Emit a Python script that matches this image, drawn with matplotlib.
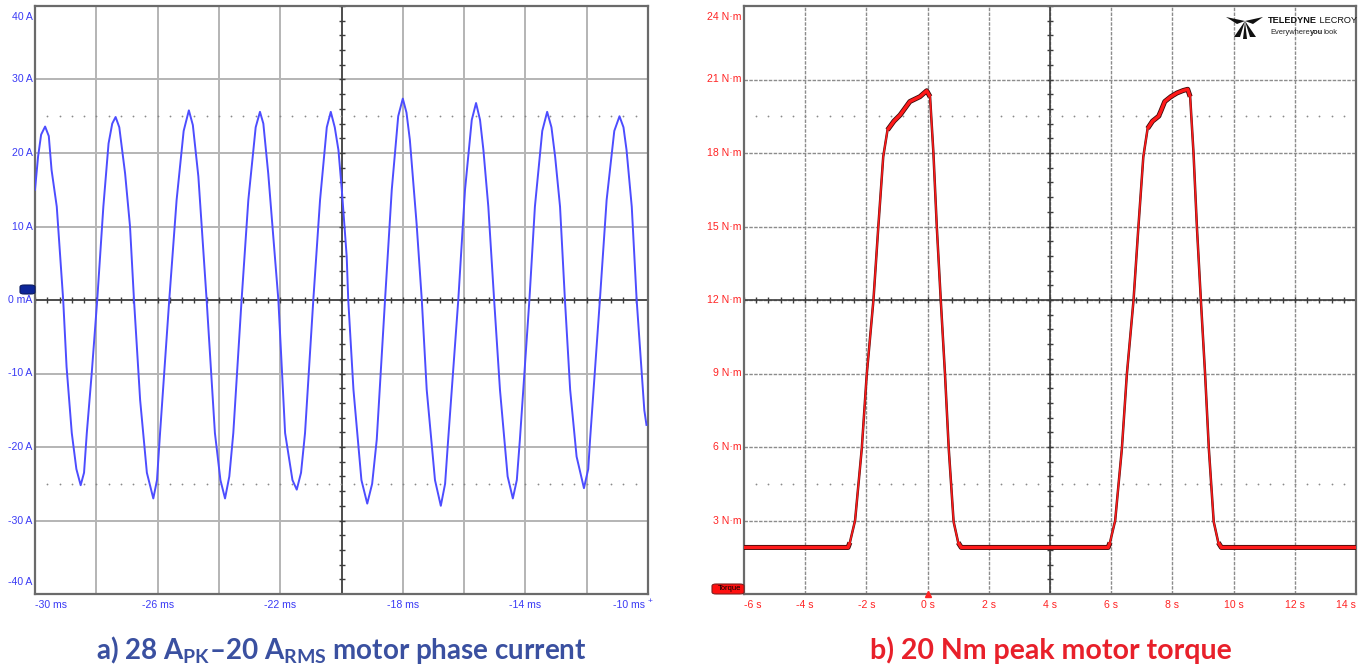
import numpy as np
import matplotlib.pyplot as plt
from matplotlib.patches import FancyBboxPatch, Polygon

plt.rcParams['font.family'] = ['Liberation Sans', 'DejaVu Sans']
plt.rcParams['mathtext.fontset'] = 'custom'
plt.rcParams['mathtext.rm'] = 'Lato:bold'
plt.rcParams['mathtext.bf'] = 'Lato:bold'
plt.rcParams['mathtext.it'] = 'Lato:bold:italic'

# --- data: phase current (ms, A)
t_cur = [-30.00, -29.90, -29.80, -29.67, -29.55, -29.46, -29.29, -29.08, -28.97, -28.80,
         -28.65, -28.51, -28.40, -28.31, -28.15, -27.97, -27.77, -27.60, -27.48, -27.37,
         -27.25, -27.06, -26.90, -26.77, -26.57, -26.35, -26.14, -26.02, -25.92, -25.62,
         -25.38, -25.15, -24.98, -24.85, -24.67, -24.40, -24.13, -23.95, -23.80, -23.66,
         -23.53, -23.26, -23.04, -22.80, -22.66, -22.55, -22.39, -22.06, -21.84, -21.60,
         -21.46, -21.32, -21.19, -20.92, -20.70, -20.48, -20.35, -20.22, -20.10, -19.99,
         -19.83, -19.78, -19.61, -19.35, -19.16, -19.00, -18.85, -18.58, -18.36, -18.15,
         -18.00, -17.88, -17.77, -17.55, -17.38, -17.22, -16.95, -16.76, -16.62, -16.52,
         -16.19, -15.97, -15.75, -15.61, -15.48, -15.37, -15.21, -15.02, -14.83, -14.58,
         -14.41, -14.28, -14.18, -13.87, -13.69, -13.45, -13.29, -13.15, -13.03, -12.87,
         -12.71, -12.54, -12.33, -12.09, -11.95, -11.89, -11.57, -11.35, -11.10, -10.93,
         -10.80, -10.70, -10.53, -10.37, -10.12, -10.05]
i_cur = [15.0, 19.5, 22.5, 23.6, 22.3, 17.7, 12.7, 0.0, -9.1, -18.1,
         -23.0, -25.2, -23.5, -18.1, -10.0, 0.0, 12.7, 21.3, 24.0, 24.9,
         23.5, 17.2, 10.0, 0.0, -13.6, -23.5, -27.0, -24.5, -18.1, 0.0,
         13.6, 23.0, 25.8, 23.8, 16.8, 0.0, -18.1, -24.5, -27.0, -24.0,
         -18.1, 0.0, 13.6, 23.5, 25.6, 24.0, 17.2, 0.0, -18.1, -24.5,
         -25.8, -23.5, -18.1, 0.0, 13.6, 23.5, 25.6, 23.5, 20.4, 15.0,
         5.9, 0.0, -12.2, -24.5, -27.7, -25.0, -19.0, 0.0, 15.0, 25.0,
         27.4, 25.5, 21.8, 10.4, 0.0, -12.2, -24.5, -28.0, -25.0, -19.0,
         0.0, 15.0, 24.5, 26.8, 24.5, 20.4, 12.7, 0.0, -12.2, -24.0,
         -27.0, -24.5, -19.0, 0.0, 12.7, 23.0, 25.6, 23.5, 19.5, 12.7,
         0.0, -12.2, -21.3, -25.6, -23.0, -19.0, 0.0, 13.6, 23.0, 25.0,
         23.5, 20.4, 12.7, 0.0, -15.0, -17.0]

# --- data: motor torque (s, N·m)
t_trq = [-6.0, -2.6, -2.54, -2.37, -2.15, -1.99, -1.77, -1.61, -1.45, -1.31,
         -1.1, -0.9, -0.58, -0.25, -0.03, 0.08, 0.19, 0.30, 0.43, 0.57,
         0.69, 0.85, 1.0, 1.1, 5.9, 5.96, 6.13, 6.35, 6.51, 6.73,
         6.89, 7.05, 7.19, 7.35, 7.55, 7.62, 7.75, 7.95, 8.15, 8.35,
         8.50, 8.58, 8.69, 8.80, 8.93, 9.07, 9.19, 9.35, 9.50, 9.60, 14.0]
v_trq = [1.9, 1.9, 2.1, 3.0, 5.95, 8.94, 12.0, 15.0, 17.85, 18.94,
         19.3, 19.55, 20.1, 20.3, 20.54, 20.3, 18.0, 15.0, 12.0, 8.94,
         5.95, 2.95, 2.1, 1.9, 1.9, 2.1, 3.0, 5.95, 8.94, 12.0,
         15.0, 17.85, 19.0, 19.3, 19.5, 19.7, 20.1, 20.3, 20.45, 20.55,
         20.6, 20.3, 18.0, 15.0, 12.0, 8.94, 5.95, 2.95, 2.1, 1.9, 1.9]

cur_yticks = [40, 30, 20, 10, 0, -10, -20, -30, -40]
cur_ylabels = ['40 A', '30 A', '20 A', '10 A', '0 mA', '-10 A', '-20 A', '-30 A', '-40 A']
cur_xticks = [-30, -26, -22, -18, -14, -10]
cur_xlabels = ['-30 ms', '-26 ms', '-22 ms', '-18 ms', '-14 ms', '-10 ms']
trq_yticks = [24, 21, 18, 15, 12, 9, 6, 3]
trq_ylabels = ['24 N·m', '21 N·m', '18 N·m', '15 N·m', '12 N·m', '9 N·m', '6 N·m', '3 N·m']
trq_xticks = [-6, -4, -2, 0, 2, 4, 6, 8, 10, 12, 14]
trq_xlabels = ['-6 s', '-4 s', '-2 s', '0 s', '2 s', '4 s', '6 s', '8 s', '10 s', '12 s', '14 s']

BLUE = '#3a3af5'
RED = '#ff2424'

W, H = 1361, 669
fig = plt.figure(figsize=(W / 100, H / 100), dpi=100)


def px(x, y):
    return x / W, 1 - y / H


ax1 = fig.add_axes([35 / W, 1 - 594 / H, 613 / W, 588 / H])
ax2 = fig.add_axes([744 / W, 1 - 594 / H, 612 / W, 588 / H])


def scope_frame(ax, xlim, ylim, xc, yc, grid_kw, dots_y, dot_x0):
    ax.set_xlim(*xlim)
    ax.set_ylim(*ylim)
    ax.set_xticks([])
    ax.set_yticks([])
    dx = (xlim[1] - xlim[0]) / 10
    dy = (ylim[1] - ylim[0]) / 8
    for k in range(1, 10):
        ax.axvline(xlim[0] + k * dx, zorder=1, **grid_kw)
    for k in range(1, 8):
        ax.axhline(ylim[0] + k * dy, zorder=1, **grid_kw)
    ax.axvline(xc, color='#3c3c3c', lw=1.2, zorder=2)
    ax.axhline(yc, color='#3c3c3c', lw=1.2, zorder=2)
    # minor ticks on the centre cross
    mx = np.arange(xlim[0], xlim[1] + 1e-9, dx / 5)
    my = np.arange(ylim[0], ylim[1] + 1e-9, dy / 5)
    ax.plot(mx, np.full_like(mx, yc), ls='none', marker='|', ms=5, mew=1.0,
            color='#3c3c3c', zorder=2)
    ax.plot(np.full_like(my, xc), my, ls='none', marker='_', ms=5, mew=1.0,
            color='#3c3c3c', zorder=2)
    # dotted reference levels
    dxs = np.arange(dot_x0, xlim[1] - dx / 5 + 1e-9, dx / 5)
    for yy in dots_y:
        ax.plot(dxs, np.full_like(dxs, yy), ls='none', marker='o', ms=1.3,
                color='#8a8a8a', mew=0, zorder=2)
    for s in ax.spines.values():
        s.set_color('#6a6a6a')
        s.set_linewidth(1.6)


scope_frame(ax1, (-30, -10), (-40, 40), -20, 0,
            dict(color='#b4b4b4', lw=1.4), [25, -25], -29.6)
scope_frame(ax2, (-6, 14), (0, 24), 4, 12,
            dict(color='#8c8c8c', lw=1.0, ls=(0, (2.5, 1))), [19.5, 4.5], -5.6)

# traces
ax1.plot(t_cur, i_cur, color='#4d4dff', lw=1.4, zorder=3, solid_joinstyle='round')

t_arr = np.array(t_trq)
v_arr = np.array(v_trq)
# the flat stretches are noisy on the scope -> drawn thicker
flat = np.where((v_arr < 2.2) | (v_arr > 18.9), v_arr, np.nan)
ax2.plot(t_arr, flat, color='#3a0a0a', lw=3.6, zorder=3, solid_capstyle='butt')
ax2.plot(t_arr, v_arr, color='#5a1010', lw=1.8, zorder=3)
ax2.plot(t_arr, v_arr, color='#ff1a1a', lw=1.1, zorder=4)
ax2.plot(t_arr, flat, color='#ff1a1a', lw=2.4, zorder=4, solid_capstyle='butt')

# tick labels
fs = 7.6
for y, lab in zip(cur_yticks, cur_ylabels):
    va = 'top' if y == 40 else ('bottom' if y == -40 else 'center')
    yy = y - 0.8 if y == 40 else (y + 1.0 if y == -40 else y)
    ax1.text(-0.004, yy, lab, transform=ax1.get_yaxis_transform(), ha='right',
             va=va, fontsize=fs, color=BLUE, clip_on=False)
for x, lab in zip(cur_xticks, cur_xlabels):
    ha = 'left' if x == -30 else ('right' if x == -10 else 'center')
    xx = x - 0.1 if x == -10 else x
    ax1.text(xx, -0.01, lab, transform=ax1.get_xaxis_transform(), ha=ha, va='top',
             fontsize=fs, color=BLUE, clip_on=False)
ax1.text(-10.0, -0.006, '+', transform=ax1.get_xaxis_transform(), ha='left',
         va='top', fontsize=6, color=BLUE, clip_on=False)

for y, lab in zip(trq_yticks, trq_ylabels):
    va = 'top' if y == 24 else 'center'
    yy = y - 0.24 if y == 24 else y
    ax2.text(-0.004, yy, lab, transform=ax2.get_yaxis_transform(), ha='right',
             va=va, fontsize=fs, color=RED, clip_on=False)
for x, lab in zip(trq_xticks, trq_xlabels):
    ha = 'left' if x == -6 else ('right' if x == 14 else 'center')
    ax2.text(x, -0.01, lab, transform=ax2.get_xaxis_transform(), ha=ha, va='top',
             fontsize=fs, color=RED, clip_on=False)
ax2.plot([0], [0], marker='^', ms=5, color=RED, clip_on=False, zorder=6)

# channel markers
x0, y0 = px(20, 294)
fig.patches.append(FancyBboxPatch((x0, y0), 15 / W, 9 / H,
                                  boxstyle='round,pad=0,rounding_size=0.003',
                                  transform=fig.transFigure, fc='#0d2699',
                                  ec='#0a1a60', lw=0.8, zorder=10))
x0, y0 = px(712, 594)
fig.patches.append(FancyBboxPatch((x0, y0), 32 / W, 10 / H,
                                  boxstyle='round,pad=0,rounding_size=0.003',
                                  transform=fig.transFigure, fc='#ff1010',
                                  ec='#802020', lw=0.8, zorder=10))
fig.text(*px(729, 589), 'Torque', fontsize=5.5, color='black', ha='center',
         va='center', zorder=11)

# logo
for poly in [[(1226, 17), (1245, 21), (1237, 24)],
             [(1263, 17), (1245, 21), (1253, 24)],
             [(1245, 21), (1234, 37), (1240, 37)],
             [(1245, 21), (1256, 37), (1250, 37)],
             [(1245, 21), (1243, 39), (1247, 39)]]:
    fig.patches.append(Polygon([px(a, b) for a, b in poly], closed=True,
                               transform=fig.transFigure, fc='#111111', ec='none',
                               zorder=10))
t1 = fig.text(*px(1268, 23), 'TELEDYNE', fontsize=6.6, fontweight='bold',
              color='#111111', va='baseline', ha='left')
ax2.annotate(' LECROY', xy=(1, 0), xycoords=t1, va='bottom', ha='left',
             fontsize=6.6, color='#111111', annotation_clip=False)
t2 = fig.text(*px(1270, 34), 'Everywhere', fontsize=5.4, color='#222222',
              va='baseline', ha='left')
t3 = ax2.annotate('you', xy=(1, 0), xycoords=t2, va='bottom', ha='left',
                  fontsize=5.4, fontweight='bold', color='#222222',
                  annotation_clip=False)
ax2.annotate('look', xy=(1, 0), xycoords=t3, va='bottom', ha='left',
             fontsize=5.4, color='#222222', annotation_clip=False)

# captions
fig.text(*px(341, 650), 'a) 28 A$_\\mathrm{PK}$–20 A$_\\mathrm{RMS}$ motor phase current',
         fontsize=20, fontweight='bold', family='Lato', color='#3a50a0',
         ha='center', va='center')
fig.text(*px(1051, 650), 'b) 20 Nm peak motor torque', fontsize=20.5,
         fontweight='bold', family='Lato', color='#e8202a', ha='center', va='center')

fig.savefig('out.png', dpi=100)
